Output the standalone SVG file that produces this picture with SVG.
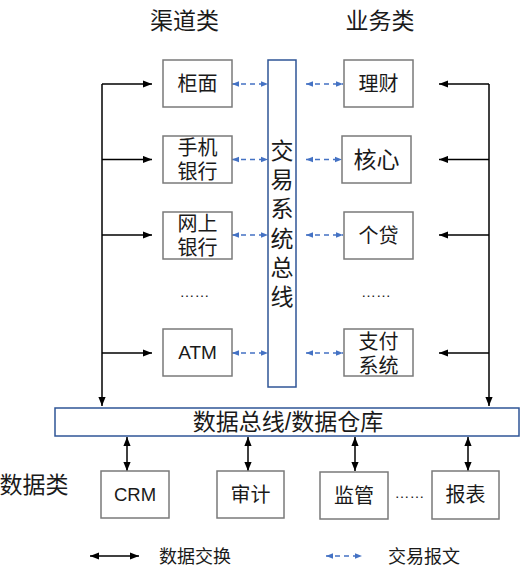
<svg xmlns="http://www.w3.org/2000/svg" width="528" height="574" viewBox="0 0 528 574">
<defs>
<style>
text{font-family:"Liberation Sans","Noto Sans CJK SC",sans-serif;fill:#1a1a1a;}
.c{text-anchor:middle;dominant-baseline:central;}
.box{fill:#fff;stroke:#7a7a7a;stroke-width:1.5;}
.bus{fill:#fff;stroke:#2F5597;stroke-width:1.5;}
.solid{stroke:#000;stroke-width:1.5;fill:none;}
.dash{stroke:#4472C4;stroke-width:1.5;fill:none;stroke-dasharray:5 4;}
.t20{font-size:20px;}
</style>
<marker id="ah" viewBox="0 0 10 8" refX="10" refY="4" markerWidth="9" markerHeight="8" markerUnits="userSpaceOnUse" orient="auto-start-reverse">
<path d="M0,0 L10,4 L0,8 z" fill="#000"/>
</marker>
<marker id="bh" viewBox="0 0 10 8" refX="10" refY="4" markerWidth="7" markerHeight="7" markerUnits="userSpaceOnUse" orient="auto-start-reverse">
<path d="M0,0 L10,4 L0,8 z" fill="#4472C4"/>
</marker>
</defs>
<rect width="528" height="574" fill="#fff"/>

<g id="headers">
<text class="c" x="184.5" y="21" font-size="23">渠道类</text>
<text class="c" x="380" y="21" font-size="23">业务类</text>
<text class="c" x="34" y="485" font-size="23">数据类</text>
</g>

<g id="connectors">
<path class="solid" d="M102,84 V406" marker-end="url(#ah)"/>
<path class="solid" d="M102,84 H152" marker-end="url(#ah)"/>
<path class="solid" d="M102,159.5 H152" marker-end="url(#ah)"/>
<path class="solid" d="M102,235 H152" marker-end="url(#ah)"/>
<path class="solid" d="M102,353 H152" marker-end="url(#ah)"/>
<path class="solid" d="M489,84 V406" marker-end="url(#ah)"/>
<path class="solid" d="M489,84 H439" marker-end="url(#ah)"/>
<path class="solid" d="M489,159.5 H439" marker-end="url(#ah)"/>
<path class="solid" d="M489,235 H439" marker-end="url(#ah)"/>
<path class="solid" d="M489,353 H439" marker-end="url(#ah)"/>
<path class="dash" d="M232,84 H268" marker-start="url(#bh)" marker-end="url(#bh)"/>
<path class="dash" d="M232,159.5 H268" marker-start="url(#bh)" marker-end="url(#bh)"/>
<path class="dash" d="M232,235 H268" marker-start="url(#bh)" marker-end="url(#bh)"/>
<path class="dash" d="M232,353 H268" marker-start="url(#bh)" marker-end="url(#bh)"/>
<path class="dash" d="M306,84 H343" marker-start="url(#bh)" marker-end="url(#bh)"/>
<path class="dash" d="M306,159.5 H342" marker-start="url(#bh)" marker-end="url(#bh)"/>
<path class="dash" d="M306,235 H343" marker-start="url(#bh)" marker-end="url(#bh)"/>
<path class="dash" d="M306,353 H343" marker-start="url(#bh)" marker-end="url(#bh)"/>
<path class="solid" d="M127,437 V471" marker-start="url(#ah)" marker-end="url(#ah)"/>
<path class="solid" d="M248,437 V471" marker-start="url(#ah)" marker-end="url(#ah)"/>
<path class="solid" d="M355,437 V471" marker-start="url(#ah)" marker-end="url(#ah)"/>
<path class="solid" d="M468,437 V471" marker-start="url(#ah)" marker-end="url(#ah)"/>
</g>

<g id="node-guimian"><rect class="box" x="163" y="60" width="69" height="47"/><text class="c t20" x="197.5" y="83.5">柜面</text></g>
<g id="node-shouji"><rect class="box" x="163" y="136" width="69" height="47"/><text class="c t20" x="197.5" y="148">手机</text><text class="c t20" x="197.5" y="172">银行</text></g>
<g id="node-wangshang"><rect class="box" x="163" y="212" width="69" height="47"/><text class="c t20" x="197.5" y="224">网上</text><text class="c t20" x="197.5" y="248">银行</text></g>
<g id="node-atm"><rect class="box" x="163" y="329" width="69" height="47"/><text class="c" x="197.5" y="352.5" font-size="19">ATM</text></g>
<g id="ellipsis-left"><text x="194.5" y="297" font-size="15" text-anchor="middle">……</text></g>

<g id="node-bus"><rect class="bus" x="268" y="60" width="28" height="327"/>
<text class="c" x="282" y="151" font-size="23">交</text>
<text class="c" x="282" y="180.2" font-size="23">易</text>
<text class="c" x="282" y="209.4" font-size="23">系</text>
<text class="c" x="282" y="238.6" font-size="23">统</text>
<text class="c" x="282" y="267.8" font-size="23">总</text>
<text class="c" x="282" y="297" font-size="23">线</text>
</g>

<g id="node-licai"><rect class="box" x="344" y="60" width="69" height="47"/><text class="c t20" x="378.5" y="83.5">理财</text></g>
<g id="node-hexin"><rect class="box" x="342" y="136" width="69" height="47"/><text class="c" x="376.5" y="159.5" font-size="23">核心</text></g>
<g id="node-gedai"><rect class="box" x="344" y="212" width="69" height="47"/><text class="c t20" x="378.5" y="235.5">个贷</text></g>
<g id="node-zhifu"><rect class="box" x="344" y="329" width="69" height="47"/><text class="c t20" x="378.5" y="341.5">支付</text><text class="c t20" x="378.5" y="366">系统</text></g>
<g id="ellipsis-right"><text x="376" y="297" font-size="15" text-anchor="middle">……</text></g>

<g id="node-databus"><rect class="bus" x="55" y="408" width="464" height="28"/><text class="c" x="288" y="422" font-size="23">数据总线/数据仓库</text></g>

<g id="node-crm"><rect class="box" x="101" y="471" width="68" height="47"/><text class="c" x="135" y="494.5" font-size="18.5">CRM</text></g>
<g id="node-shenji"><rect class="box" x="217" y="471" width="67" height="47"/><text class="c t20" x="250.5" y="494.5">审计</text></g>
<g id="node-jianguan"><rect class="box" x="320" y="472" width="68" height="47"/><text class="c t20" x="354" y="495.5">监管</text></g>
<g id="ellipsis-bottom"><text x="409.5" y="498" font-size="15" text-anchor="middle">……</text></g>
<g id="node-baobiao"><rect class="box" x="432" y="471" width="67" height="48"/><text class="c t20" x="465.5" y="495">报表</text></g>

<g id="legend">
<path class="solid" d="M90,556 H139" marker-start="url(#ah)" marker-end="url(#ah)"/>
<text x="159" y="556.5" font-size="18" dominant-baseline="central">数据交换</text>
<path class="dash" d="M326,556 H362" marker-start="url(#bh)" marker-end="url(#bh)"/>
<text x="388" y="557" font-size="18" dominant-baseline="central">交易报文</text>
</g>
</svg>
